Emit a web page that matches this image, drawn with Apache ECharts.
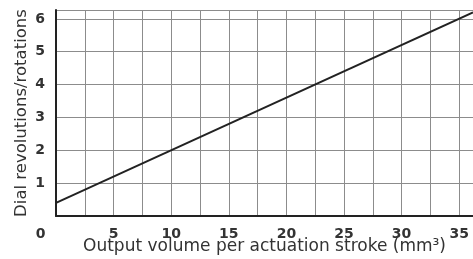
<!DOCTYPE html>
<html>
<head>
<meta charset="utf-8">
<script src="https://cdn.jsdelivr.net/npm/echarts@6/dist/echarts.min.js"></script>
<style>
html, body { margin: 0; padding: 0; background: #fff; }
#chart { width: 473px; height: 259px; }
</style>
</head>
<body>
<div id="chart"></div>
<script>
// values
var volume = [0, 36.2];          // mm3
var revolutions = [0.4, 6.2];    // dial turns
var xName = 'Output volume per actuation stroke (mm\u00b3)';
var yName = 'Dial revolutions/rotations';

var lineData = [];
for (var i = 0; i < volume.length; i++) {
	lineData.push([volume[i], revolutions[i]]);
}

var chart = echarts.init(document.getElementById('chart'));

var options = {
	animation: false,
	textStyle: { fontFamily: 'DejaVu Sans' },
	grid: { left: 56, right: 0, top: 10, bottom: 43, containLabel: false, outerBoundsMode: 'none' },
	xAxis: {
		type: 'value',
		min: 0,
		max: 36.2,
		interval: 2.5,
		name: xName,
		nameLocation: 'middle',
		nameGap: 22,
		nameMoveOverlap: false,
		nameTextStyle: { fontSize: 17, color: '#333' },
		axisLine: { lineStyle: { color: '#222', width: 2 } },
		axisTick: { show: false },
		splitLine: { lineStyle: { color: '#8c8c8c', width: 1 } },
		axisLabel: {
			showMaxLabel: false,
			margin: 11,
			fontSize: 14,
			fontWeight: 'bold',
			color: '#333',
			formatter: function (v) {
				if (v === 0) return '{z|0}';
				return v % 5 === 0 ? String(v) : '';
			},
			rich: {
				z: { fontSize: 14, fontWeight: 'bold', color: '#333', padding: [0, 31, 0, 0] }
			}
		}
	},
	yAxis: {
		type: 'value',
		min: 0,
		max: 6.27,
		interval: 1,
		name: yName,
		nameLocation: 'middle',
		nameGap: 26,
		nameMoveOverlap: false,
		nameTextStyle: { fontSize: 16.5, color: '#333' },
		axisLine: { show: true, lineStyle: { color: '#222', width: 2 } },
		axisTick: { show: false },
		splitLine: { lineStyle: { color: '#8c8c8c', width: 1 } },
		axisLabel: {
			showMaxLabel: false,
			margin: 11,
			fontSize: 14,
			fontWeight: 'bold',
			color: '#333',
			formatter: function (v) { return v === 0 ? '' : String(v); }
		}
	},
	series: [{
		type: 'line',
		data: lineData,
		showSymbol: false,
		lineStyle: { color: '#222', width: 2 }
	}]
};

chart.setOption(options);
</script>
</body>
</html>
